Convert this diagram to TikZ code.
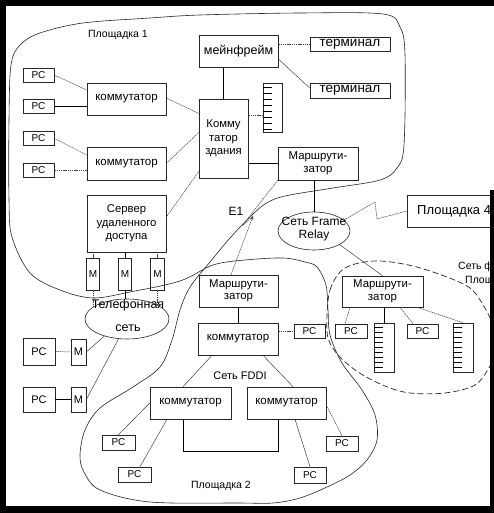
\documentclass[tikz,border=0pt]{standalone}
\usepackage{fontspec}
\setmainfont{Liberation Sans}
\usetikzlibrary{arrows.meta,shapes.geometric,calc}
\begin{document}
\begin{tikzpicture}[x=1pt,y=-1pt,
  box/.style={draw=black!85, line width=0.6pt, inner sep=0pt, align=center, font=\fontsize{11.3}{13.5}\selectfont},
  pcbox/.style={box, font=\fontsize{10}{12}\selectfont},
  rackbox/.style={draw=black!85, line width=0.6pt, inner sep=0pt},
  ell/.style={draw=black!85, line width=0.6pt, ellipse, inner sep=0pt},
  lbl/.style={inner sep=0pt, align=center},
  lnd/.style={line width=0.5pt, black!75, dash pattern=on 1.5pt off 0.7pt},
  lns/.style={line width=0.6pt, black},
  lnt/.style={line width=0.45pt, black!80},
  contour/.style={line width=0.6pt, black!85},
  contourd/.style={line width=0.7pt, black!85, dash pattern=on 6pt off 3pt}]
\useasboundingbox (0,0) rectangle (494,513);
\begin{scope}
\clip (0,0) rectangle (494,513);
\fill[white] (0,0) rectangle (494,513);

% ---- contours
\draw[contour] plot[smooth cycle, tension=0.55] coordinates {
 (317,267) (326,285) (328,310) (330,335) (342,363) (362,390) (375,415) (377,440)
 (367,460) (350,475) (327,487) (300,498) (273,503) (240,503) (150,502) (100,490)
 (84,472) (80,455) (85,430) (100,408) (133,387) (160,367) (172,340) (180,310)
 (190,287) (210,262) (230,238) (248,219) (265,204) (285,196) (333,188) (380,180)
 (397,168) (404,145) (405,55) (400,27) (383,14) (300,13) (200,15) (150,18)
 (83,23) (40,33) (20,45) (11,65) (9,120) (9,200) (12,237) (30,273) (60,290)
 (93,298) (130,292) (180,281) (213,265) (245,260) (283,258) (305,262)};
\draw[contourd] plot[smooth cycle, tension=0.55] coordinates {
 (327,315) (330,290) (340,272) (355,264) (380,261) (413,266) (447,277) (470,288)
 (482,303) (492,322) (500,345) (490,366) (475,385) (445,393) (410,393) (385,386)
 (358,372) (338,355) (328,338)};

% ---- Площадка 1
\node[lbl, font=\fontsize{10.5}{12}\selectfont] (lp1) at (118,35) {Площадка 1};
\node[pcbox, minimum width=31pt, minimum height=14pt] (pc1) at (38.5,75) {PC};
\node[pcbox, minimum width=31pt, minimum height=14pt] (pc2) at (38.5,106.5) {PC};
\node[pcbox, minimum width=31pt, minimum height=14pt] (pc3) at (38.5,138.5) {PC};
\node[pcbox, minimum width=31pt, minimum height=14pt] (pc4) at (38.5,170) {PC};
\node[box, font=\fontsize{11.5}{13}\selectfont, minimum width=79pt, minimum height=32pt] (sw1) at (126.5,99) {коммутатор};
\node[box, font=\fontsize{11.5}{13}\selectfont, minimum width=79pt, minimum height=33pt] (sw2) at (126.5,163.5) {коммутатор};
\node[box, font=\fontsize{12.5}{14}\selectfont, minimum width=79pt, minimum height=32pt] (mf) at (238.5,51) {мейнфрейм};
\node[box, minimum width=49pt, minimum height=79pt] (bsw) at (223.5,138.5) {Комму\\татор\\здания};
\node[box, font=\fontsize{13.5}{15}\selectfont, minimum width=80pt, minimum height=14pt] (t1) at (350,44) {терминал};
\node[box, font=\fontsize{13.5}{15}\selectfont, minimum width=80pt, minimum height=15pt] (t2) at (350,90.5) {терминал};
\node[rackbox, minimum width=19pt, minimum height=49pt] (rk1) at (272.5,107.5) {};
\foreach \k in {5,11,...,47} \draw[line width=0.6pt] ([yshift=-\k pt]rk1.north west) -- ++(9,0);
\node[box, font=\fontsize{11.4}{12.5}\selectfont, minimum width=80pt, minimum height=33pt] (r1) at (318,163.5) {Маршрути-\\затор};
\node[box, minimum width=79pt, minimum height=57pt] (srv) at (126.5,223.5) {Сервер\\удаленного\\доступа};
\node[pcbox, minimum width=13pt, minimum height=32pt] (m1) at (93,274) {M};
\node[pcbox, minimum width=13pt, minimum height=32pt] (m2) at (125,274) {M};
\node[pcbox, minimum width=14pt, minimum height=32pt] (m3) at (157.5,274) {M};

% ---- телефонная сеть и удалённые PC
\node[ell, minimum width=84pt, minimum height=40pt] (tel) at (127,319) {};
\node[lbl, font=\fontsize{12.5}{14}\selectfont] (telt) at (128,316) {Телефонная\\[9pt]сеть};
\node[pcbox, font=\fontsize{11}{12}\selectfont, minimum width=32pt, minimum height=27pt] (pca) at (39,351.5) {PC};
\node[pcbox, font=\fontsize{11}{12}\selectfont, minimum width=15pt, minimum height=26pt] (ma) at (78.5,352) {M};
\node[pcbox, font=\fontsize{11}{12}\selectfont, minimum width=32pt, minimum height=25pt] (pcb) at (39,399.5) {PC};
\node[pcbox, font=\fontsize{11}{12}\selectfont, minimum width=15pt, minimum height=25pt] (mb) at (78.5,399.5) {M};

% ---- Frame Relay, Площадка 4
\node[ell, minimum width=72pt, minimum height=38pt] (fr) at (314,231) {};
\node[lbl, font=\fontsize{12}{13.5}\selectfont] (frt) at (314,229) {Сеть Frame\\Relay};
\node[draw=black!85, line width=0.6pt, minimum width=93pt, minimum height=32pt, inner sep=0pt] (p4) at (453.5,211) {};
\node[lbl, anchor=west, font=\fontsize{13}{15}\selectfont] (p4t) at (417,211) {Площадка 4};
\coordinate (z1) at (375,202);
\coordinate (z2) at (377,219);

% ---- Площадка 2
\node[box, font=\fontsize{11.4}{12.5}\selectfont, minimum width=79pt, minimum height=32pt] (r2) at (238.5,291) {Маршрути-\\затор};
\node[box, font=\fontsize{11.5}{13}\selectfont, minimum width=80pt, minimum height=32pt] (sw3) at (238,339) {коммутатор};
\node[pcbox, minimum width=31pt, minimum height=14pt] (pcc) at (309.5,331) {PC};
\node[lbl, font=\fontsize{11}{12}\selectfont] (fddi) at (240,376) {Сеть FDDI};
\node[box, font=\fontsize{11.5}{13}\selectfont, minimum width=81pt, minimum height=32pt] (swl) at (190.5,403) {коммутатор};
\node[box, font=\fontsize{11.5}{13}\selectfont, minimum width=79pt, minimum height=32pt] (swr) at (286.5,403) {коммутатор};
\node[pcbox, minimum width=32pt, minimum height=15pt] (pcd) at (342,443.5) {PC};
\node[pcbox, minimum width=32pt, minimum height=16pt] (pce) at (310,475) {PC};
\node[pcbox, minimum width=33pt, minimum height=15pt] (pcf) at (118.5,442.5) {PC};
\node[pcbox, minimum width=33pt, minimum height=15pt] (pcg) at (134.5,474.5) {PC};
\node[lbl, font=\fontsize{10.5}{12}\selectfont] (lp2) at (221,486) {Площадка 2};
\node[lbl, font=\fontsize{12}{13}\selectfont] (e1) at (236,211) {E1};
\coordinate (e1a) at (242,226);
\coordinate (e1b) at (253,216);

% ---- Площадка 3
\node[box, font=\fontsize{11.4}{12.5}\selectfont, minimum width=81pt, minimum height=31pt] (r3) at (382.5,291.5) {Маршрути-\\затор};
\node[pcbox, minimum width=32pt, minimum height=14pt] (pch) at (351,331) {PC};
\node[rackbox, minimum width=20pt, minimum height=49pt] (rk2) at (384,347.5) {};
\node[pcbox, minimum width=31pt, minimum height=14pt] (pci) at (422.5,331) {PC};
\node[rackbox, minimum width=20pt, minimum height=49pt] (rk3) at (463,347.5) {};
\foreach \k in {5,10,...,45} {
  \draw[line width=0.6pt] ([yshift=-\k pt]rk2.north west) -- ++(9,0);
  \draw[line width=0.6pt] ([yshift=-\k pt]rk3.north west) -- ++(9,0);}
\node[lbl, anchor=west, font=\fontsize{10.5}{12}\selectfont] (s3a) at (458,267) {Сеть ф};
\node[lbl, anchor=west, font=\fontsize{10.5}{12}\selectfont] (s3b) at (465,281) {Площ};

% ---- connectors Площадка 1
\draw[lnd] (pc1.east) -- ([yshift=9pt]sw1.west);
\draw[lns] (pc2.east) -- (pc2.east -| sw1.west);
\draw[lnd] (pc3.east) -- ([yshift=8.5pt]sw2.west);
\draw[lnd] (pc4.east) -- (pc4.east -| sw2.west);
\draw[lnd] ([yshift=1pt]sw1.east) -- ([yshift=25pt]bsw.west);
\draw[lnd] (sw2.east) -- ([yshift=6pt]bsw.west);
\draw[lns] (bsw.north) -- (bsw.north |- mf.south);
\draw[lnd] (t1.west -| mf.east) -- (t1.west);
\draw[lnt] ([yshift=-8pt]mf.east) -- ([yshift=2.5pt]t2.west);
\draw[lnd] ([yshift=-7.5pt]rk1.west -| bsw.east) -- ([yshift=-7.5pt]rk1.west);
\draw[lns] (r1.west -| bsw.east) -- (r1.west);
\draw[lnd] ([yshift=-33pt]bsw.west) -- ([yshift=6.5pt]srv.east);
\draw[lnd] (m1.north) -- (m1.north |- srv.south);
\draw[lns] (m2.north) -- (m2.north |- srv.south);
\draw[lnd] (m3.north) -- (m3.north |- srv.south);
\draw[lnd] (m1.south) -- (m1.south |- tel.160);
\draw[lns] (m2.south) -- (m2.south |- tel.north);
\draw[lnd] (m3.south) -- (m3.south |- tel.24);
\draw[lnd] (pca.east) -- (ma.west);
\draw[lns] (pcb.east) -- (mb.west);
\draw[lnt] (ma.east) -- (tel.217);
\draw[lnt] (mb.east) -- (tel.247);

% ---- Frame Relay links
\draw[lns] (fr.north) -- (fr.north |- r1.south);
\draw[lnt] (fr.-28) -- (r3.north);
\draw[lnd] (fr.20) -- (z1) -- (z2) -- (p4.west);
\draw[lnd] (r1.south west) -- (e1a) -- (e1b);
\draw[lnd, -{Stealth[length=4pt,width=3pt]}] ([xshift=-7.5pt]r2.north) -- (e1b);

% ---- Площадка 2 links
\draw[lns] (r2.south) -- (r2.south |- sw3.north);
\draw[lnd] (pcc.west -| sw3.east) -- (pcc.west);
\draw[lnt] ([xshift=-26pt]sw3.south) -- ([xshift=-7.5pt]swl.north);
\draw[lnt] ([xshift=25pt]sw3.south) -- ([xshift=6.5pt]swr.north);
\draw[lns] ([xshift=-7.5pt]swl.south) -- ++(0,32) -| ([xshift=-8.5pt]swr.south);
\draw[lnd] ([yshift=-2pt]swr.east) -- (pcd.north);
\draw[lnt] ([xshift=8.5pt]swr.south) -- (pce.north);
\draw[lnt] (swl.west) -- (pcf.north);
\draw[lnt] ([xshift=-23.5pt]swl.south) -- ([xshift=5.5pt]pcg.north);

% ---- Площадка 3 links
\draw[lnd] ([xshift=-32.5pt]r3.south) -- ([xshift=-6pt]pch.north);
\draw[lns] (rk2.north) -- (rk2.north |- r3.south);
\draw[lnd] ([xshift=17.5pt]r3.south) -- ([xshift=-9.5pt]pci.north);
\draw[lnd] ([xshift=34.5pt]r3.south) -- (rk3.north);
\end{scope}

% ---- black frame of the scan
\fill[black] (0,0) rectangle (494,6);
\fill[black] (0,0) rectangle (6,513);
\fill[black] (0,506) rectangle (494,513);
\fill[black] (490,190) rectangle (494,513);
\end{tikzpicture}
\end{document}
